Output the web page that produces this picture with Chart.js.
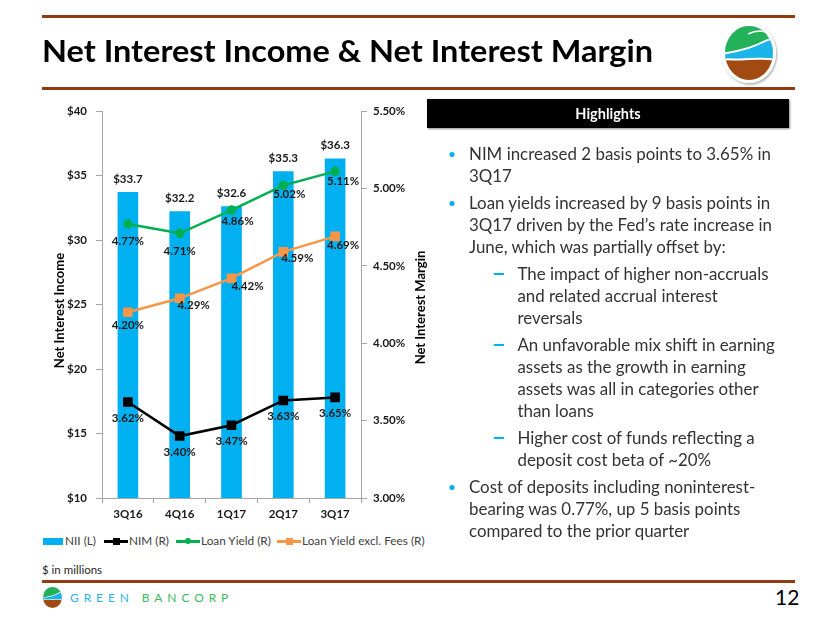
<!DOCTYPE html>
<html>
<head>
<meta charset="utf-8">
<script src="https://cdn.jsdelivr.net/npm/chart.js@4.4.1/dist/chart.umd.min.js"></script>
<style>
  body { margin: 0; width: 830px; height: 623px; background: #fff; position: relative; overflow: hidden; font-family: Lato, "Open Sans", sans-serif; color: #262626; }
  .rule { position: absolute; left: 42px; width: 753px; height: 3px; background: #923b13; }
  #title { position: absolute; left: 42px; font-weight: bold; color: #000; white-space: nowrap; line-height: 1.2; transform-origin: 0 0; }
  #chartBox { position: absolute; left: 20px; top: 95px; width: 420px; height: 430px; }
  #hlBox { position: absolute; left: 427px; top: 99px; width: 362px; height: 29px; background: #000; color: #fff; font-weight: bold; text-align: center; line-height: 29px; box-shadow: 1px 1px 2px rgba(0,0,0,0.45); }
  #bullets { position: absolute; left: 469px; top: 143px; white-space: nowrap; color: #333; transform-origin: 0 0; }
  #bullets p { margin: 0 0 4.4px 0; line-height: 22.2px; position: relative; }
  #bullets p.main::before { content: ""; position: absolute; left: -19px; top: 9px; width: 5px; height: 5px; border-radius: 50%; background: #00b0f0; }
  #bullets p.sub { margin-left: 47px; }
  #bullets p.sub::before { content: ""; position: absolute; left: -23px; top: 10px; width: 10px; height: 2px; background: #00b0f0; }
  #legend { position: absolute; top: 533px; left: 0; height: 16px; }
  .lg { position: absolute; top: 0; height: 16px; white-space: nowrap; color: #404040; }
  .lg .sw { position: absolute; top: 8px; }
  #note { position: absolute; left: 42px; top: 563px; color: #262626; }
  #pageNo { position: absolute; left: 775px; top: 584px; color: #000; }
  #brand { position: absolute; left: 70px; top: 590px; letter-spacing: 4.9px; white-space: nowrap; }
</style>
</head>
<body>
<div class="rule" style="top:15px"></div>
<div id="title">Net Interest Income &amp; Net Interest Margin</div>
<div class="rule" style="top:87px"></div>

<svg style="position:absolute;left:718px;top:20px" width="62" height="66" viewBox="0 0 62 66">
  <defs>
    <clipPath id="lc"><ellipse cx="31" cy="33" rx="24" ry="27"/></clipPath>
    <filter id="sh" x="-20%" y="-20%" width="140%" height="140%"><feDropShadow dx="1" dy="1.5" stdDeviation="1.2" flood-opacity="0.35"/></filter>
  </defs>
  <ellipse cx="31" cy="33" rx="27" ry="30" fill="#fff" filter="url(#sh)"/>
  <g clip-path="url(#lc)">
    <rect x="0" y="0" width="62" height="66" fill="#a14a12"/>
    <path d="M0 0 H62 V41 Q46 39 31 40 Q15 41 0 40 Z" fill="#fff"/>
    <path d="M0 0 H62 V39 Q46 37 31 38 Q15 39 0 38 Z" fill="#1cb5ea"/>
    <path d="M0 0 H62 V18 Q52 19 45 23 Q32 30 9 34 L0 36 Z" fill="#fff"/>
    <path d="M0 0 H62 V16 Q52 17 45 21 Q32 28 9 32 L0 34 Z" fill="#23b15a"/>
    <path d="M30 14 Q42 8 54 14" stroke="#fff" stroke-width="1.6" fill="none"/>
  </g>
</svg>

<div id="chartBox"><canvas id="nimChart"></canvas></div>

<div id="legend"></div>

<div id="hlBox">Highlights</div>
<div id="bullets">
  <p class="main">NIM increased 2 basis points to 3.65% in<br>3Q17</p>
  <p class="main">Loan yields increased by 9 basis points in<br>3Q17 driven by the Fed’s rate increase in<br>June, which was partially offset by:</p>
  <p class="sub">The impact of higher non-accruals<br>and related accrual interest<br>reversals</p>
  <p class="sub">An unfavorable mix shift in earning<br>assets as the growth in earning<br>assets was all in categories other<br>than loans</p>
  <p class="sub">Higher cost of funds reflecting a<br>deposit cost beta of ~20%</p>
  <p class="main">Cost of deposits including noninterest-<br>bearing was 0.77%, up 5 basis points<br>compared to the prior quarter</p>
</div>

<div id="note">$ in millions</div>
<div class="rule" style="top:580px"></div>
<svg style="position:absolute;left:41px;top:586px" width="23" height="23" viewBox="0 0 62 66">
  <defs><clipPath id="lc2"><ellipse cx="31" cy="33" rx="27" ry="30"/></clipPath></defs>
  <g clip-path="url(#lc2)">
    <rect x="0" y="0" width="62" height="66" fill="#a14a12"/>
    <path d="M0 0 H62 V41 Q46 39 31 40 Q15 41 0 40 Z" fill="#fff"/>
    <path d="M0 0 H62 V39 Q46 37 31 38 Q15 39 0 38 Z" fill="#1cb5ea"/>
    <path d="M0 0 H62 V18 Q52 19 45 23 Q32 30 9 34 L0 36 Z" fill="#fff"/>
    <path d="M0 0 H62 V16 Q52 17 45 21 Q32 28 9 32 L0 34 Z" fill="#23b15a"/>
  </g>
</svg>
<div id="brand"><span style="color:#29b3e6">GREEN</span> <span style="color:#3cb95c">BANCORP</span></div>
<div id="pageNo">12</div>

<script>
const quarters = ['3Q16', '4Q16', '1Q17', '2Q17', '3Q17'];
const niiValues = [33.7, 32.2, 32.6, 35.3, 36.3];
const nimValues = [3.62, 3.40, 3.47, 3.63, 3.65];
const loanYieldValues = [4.77, 4.71, 4.86, 5.02, 5.11];
const loanYieldExFeesValues = [4.20, 4.29, 4.42, 4.59, 4.69];
const leftTickRange = [10, 40, 5];      // min, max, step ($M)
const rightTickRange = [3.0, 5.5, 0.5]; // min, max, step (%)

// label nudges [dx, dy] from each point, like the hand placed labels in the slide
const nimLabelShift = [[0, 16], [0, 16], [0, 16], [0, 16], [0, 16]];
const loanYieldLabelShift = [[0, 17], [0, 18], [6, 11], [6, 9], [8, 10]];
const exFeesLabelShift = [[0, 13], [14, 7], [16, 8], [14, 6], [8, 9]];

const FONT = 'Lato';

function measure(text, weight, size) {
    const c = document.createElement('canvas').getContext('2d');
    c.font = weight + ' ' + size + 'px ' + FONT;
    return c.measureText(text).width;
}

// the slide used Calibri: match its cap height, then squeeze to its width
const title = document.getElementById('title');
const titleSize = 31;
title.style.fontSize = titleSize + 'px';
title.style.top = (63 - 0.987 * titleSize) + 'px';
title.style.transform = 'scaleX(' + (611 / measure('Net Interest Income & Net Interest Margin', 'bold', titleSize)) + ')';

const bullets = document.getElementById('bullets');
const bulletSize = 16.4;
bullets.style.fontSize = bulletSize + 'px';
bullets.style.transform = 'scaleX(' + (302 / measure('NIM increased 2 basis points to 3.65% in', 'normal', bulletSize)) + ')';

document.getElementById('hlBox').style.fontSize = '14.5px';
document.getElementById('note').style.fontSize = '11.5px';
document.getElementById('pageNo').style.fontSize = '21px';
document.getElementById('brand').style.fontSize = '12px';

// legend
const legendItems = [
    { text: 'NII (L)', x: 43, kind: 'bar', color: '#00b0f0' },
    { text: 'NIM (R)', x: 104, kind: 'rect', color: '#000000' },
    { text: 'Loan Yield (R)', x: 176, kind: 'circle', color: '#00b050' },
    { text: 'Loan Yield excl. Fees (R)', x: 277, kind: 'rect', color: '#f79646' }
];
const legend = document.getElementById('legend');
legendItems.forEach(item => {
    const d = document.createElement('div');
    d.className = 'lg';
    d.style.left = item.x + 'px';
    d.style.fontSize = '11.8px';
    let sw;
    if (item.kind === 'bar') {
        sw = '<span class="sw" style="left:0;top:4.5px;width:20px;height:7px;background:' + item.color + '"></span>';
    } else {
        const mk = item.kind === 'circle'
            ? '<span style="position:absolute;left:9px;top:-2px;width:6px;height:6px;border-radius:50%;background:' + item.color + '"></span>'
            : '<span style="position:absolute;left:8.5px;top:-2.5px;width:7px;height:7px;background:' + item.color + '"></span>';
        sw = '<span class="sw" style="left:0;width:24px;height:2.5px;margin-top:-1px;background:' + item.color + '">' + mk + '</span>';
    }
    d.innerHTML = sw + '<span style="position:absolute;left:' + (item.kind === 'bar' ? 22 : 25) + 'px;top:0;line-height:16px">' + item.text + '</span>';
    legend.appendChild(d);
});

// value labels and axis titles drawn on the canvas
const chartText = {
    id: 'chartText',
    afterDatasetsDraw(chart) {
        const ctx = chart.ctx;
        ctx.save();
        ctx.font = 'bold 11.5px ' + FONT;
        ctx.fillStyle = '#1a1a1a';
        ctx.textAlign = 'center';
        ctx.textBaseline = 'middle';
        chart.data.datasets.forEach((ds, i) => {
            const meta = chart.getDatasetMeta(i);
            meta.data.forEach((el, j) => {
                const v = ds.data[j];
                if (ds.type === 'bar') {
                    ctx.fillText('$' + v.toFixed(1), el.x, el.y - 13);
                } else {
                    const s = ds.labelShift[j];
                    ctx.fillText(v.toFixed(2) + '%', el.x + s[0], el.y + s[1]);
                }
            });
        });
        // axis titles, both reading bottom to top
        const area = chart.chartArea;
        const midY = (area.top + area.bottom) / 2;
        ctx.font = 'bold 13px ' + FONT;
        ctx.fillStyle = '#000';
        [[40, midY + 6, 'Net Interest Income'], [401, midY + 3, 'Net Interest Margin']].forEach(t => {
            ctx.save();
            ctx.translate(t[0], t[1]);
            ctx.rotate(-Math.PI / 2);
            ctx.fillText(t[2], 0, 0);
            ctx.restore();
        });
        ctx.restore();
    }
};

Chart.defaults.font.family = FONT;

const axisGrey = '#a6a6a6';
const tickFont = { family: FONT, weight: 'bold', size: 11.5 };

new Chart(document.getElementById('nimChart'), {
    type: 'bar',
    data: {
        labels: quarters,
        datasets: [
            {
                type: 'bar',
                label: 'NII (L)',
                data: niiValues,
                yAxisID: 'y',
                backgroundColor: '#00b0f0',
                barThickness: 20,
                order: 2
            },
            {
                type: 'line',
                label: 'NIM (R)',
                data: nimValues,
                yAxisID: 'y1',
                borderColor: '#000000',
                backgroundColor: '#000000',
                borderWidth: 2.5,
                pointStyle: 'rect',
                pointRadius: 5,
                labelShift: nimLabelShift,
                order: 1
            },
            {
                type: 'line',
                label: 'Loan Yield (R)',
                data: loanYieldValues,
                yAxisID: 'y1',
                borderColor: '#00b050',
                backgroundColor: '#00b050',
                borderWidth: 2.5,
                pointStyle: 'circle',
                pointRadius: 3.5,
                labelShift: loanYieldLabelShift,
                order: 1
            },
            {
                type: 'line',
                label: 'Loan Yield excl. Fees (R)',
                data: loanYieldExFeesValues,
                yAxisID: 'y1',
                borderColor: '#f79646',
                backgroundColor: '#f79646',
                borderWidth: 2.5,
                pointStyle: 'rect',
                pointRadius: 5,
                labelShift: exFeesLabelShift,
                order: 1
            }
        ]
    },
    options: {
        responsive: true,
        maintainAspectRatio: false,
        animation: false,
        layout: { padding: { top: 16, left: 0, right: 0, bottom: 0 } },
        plugins: {
            legend: { display: false },
            tooltip: { enabled: false }
        },
        scales: {
            x: {
                afterFit: s => { s.height = 27; },
                grid: { drawOnChartArea: false, tickLength: 5, color: axisGrey, offset: true },
                border: { color: axisGrey, width: 1 },
                ticks: { font: tickFont, color: '#1a1a1a', padding: 4 }
            },
            y: {
                position: 'left',
                min: leftTickRange[0],
                max: leftTickRange[1],
                afterFit: s => { s.width = 82; },
                grid: { drawOnChartArea: false, tickLength: 6, color: axisGrey },
                border: { color: axisGrey, width: 1 },
                ticks: {
                    stepSize: leftTickRange[2],
                    font: tickFont,
                    color: '#1a1a1a',
                    padding: 9,
                    callback: v => '$' + v
                }
            },
            y1: {
                position: 'right',
                min: rightTickRange[0],
                max: rightTickRange[1],
                afterFit: s => { s.width = 79; },
                grid: { drawOnChartArea: false, tickLength: 6, color: axisGrey },
                border: { color: axisGrey, width: 1 },
                ticks: {
                    stepSize: rightTickRange[2],
                    font: tickFont,
                    color: '#1a1a1a',
                    padding: 6,
                    callback: v => v.toFixed(2) + '%'
                }
            }
        }
    },
    plugins: [chartText]
});
</script>
</body>
</html>
